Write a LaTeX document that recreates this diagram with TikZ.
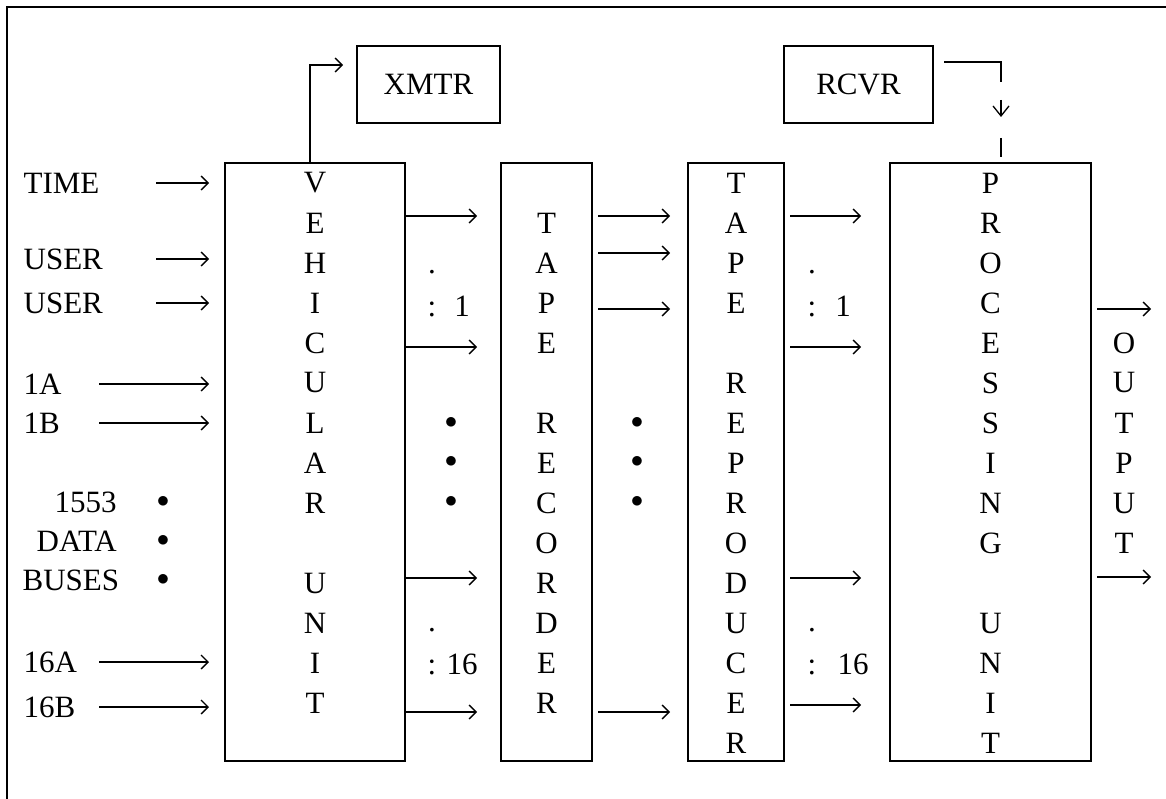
\documentclass[tikz,border=0pt]{standalone}
\usepackage{fontspec}
\setmainfont{Liberation Serif}
\usetikzlibrary{arrows.meta}

\begin{document}
\begin{tikzpicture}[x=1pt, y=-1pt, line width=1.3pt,
  every node/.style={font=\fontsize{31pt}{37pt}\selectfont, inner sep=0pt},
  box/.style={draw, rectangle, line width=2pt},
  sig/.style={-{Straight Barb[length=7pt,width=14pt]}, line width=1.3pt}]
\useasboundingbox (0,0) rectangle (1166,799);
% frame
\draw[line width=2.2pt] (7,799) -- (7,7) -- (1166,7);
% boxes
\node[box, minimum width=143, minimum height=77] (xmtr) at (428.5,84.5) {XMTR};
\node[box, minimum width=149, minimum height=77] (rcvr) at (858.5,84.5) {RCVR};
\node[box, minimum width=180, minimum height=598] (veh) at (315,462) {};
\node[box, minimum width=91, minimum height=598] (rec) at (546.5,462) {};
\node[box, minimum width=96, minimum height=598] (rep) at (736,462) {};
\node[box, minimum width=201, minimum height=598] (proc) at (990.5,462) {};
% letters down the boxes
\foreach \l [count=\i] in {V,E,H,I,C,U,L,A,R,{},U,N,I,T}
	\node (vehl\i) at (315,143+40*\i) {\l};
\foreach \l [count=\i from 2] in {T,A,P,E,{},R,E,C,O,R,D,E,R}
	\node (recl\i) at (546.5,143+40*\i) {\l};
\foreach \l [count=\i] in {T,A,P,E,{},R,E,P,R,O,D,U,C,E,R}
	\node (repl\i) at (736,143+40*\i) {\l};
\foreach \l [count=\i] in {P,R,O,C,E,S,S,I,N,G,{},U,N,I,T}
	\node (procl\i) at (990.5,143+40*\i) {\l};
\foreach \l [count=\i from 5] in {O,U,T,P,U,T}
	\node (outl\i) at (1124,143+40*\i) {\l};
% inputs
\node[anchor=west] (time) at (23,183) {TIME};
\node[anchor=west] (user1) at (23,259) {USER};
\node[anchor=west] (user2) at (23,303) {USER};
\node[anchor=west] (in1a) at (23,384) {1A};
\node[anchor=west] (in1b) at (23,423) {1B};
\node[anchor=west] (bus1) at (54,502) {1553};
\node[anchor=west] (bus2) at (36,541) {DATA};
\node[anchor=west] (bus3) at (22,580) {BUSES};
\node[anchor=west] (in16a) at (23,662) {16A};
\node[anchor=west] (in16b) at (23,707) {16B};
\coordinate (longin) at (99,0);
\coordinate (shortin) at (156,0);
\foreach \n in {time,user1,user2}
	\draw[sig, shorten >=15pt] (shortin |- \n) -- (veh.west |- \n);
\foreach \n in {in1a,in1b,in16a,in16b}
	\draw[sig, shorten >=15pt] (longin |- \n) -- (veh.west |- \n);
% bullets
\foreach \y [count=\i] in {502,541,580}
	\node (busdot\i) at (163,\y) {$\bullet$};
\foreach \y [count=\i] in {423,462,502}{
	\node (recdot\i) at (451,\y) {$\bullet$};
	\node (repdot\i) at (637,\y) {$\bullet$};
}
% channel counts
\foreach \cx/\cy/\num/\nx [count=\i] in {432/272/1/462, 432/630/16/462, 812/272/1/843, 812/630/16/853}{
	\node (chdot\i) at (\cx,\cy) {.};
	\node (chcol\i) at (\cx,\cy+37) {:};
	\node (chnum\i) at (\nx,\cy+34) {\num};
}
% tracks
\foreach \y in {216,347,578,712}
	\draw[sig, shorten >=23pt] (veh.east |- 0,\y) -- (rec.west |- 0,\y);
\foreach \y in {216,253,309,712}
	\draw[sig, shorten <=5pt, shorten >=17pt] (rec.east |- 0,\y) -- (rep.west |- 0,\y);
\foreach \y in {216,347,578,705}
	\draw[sig, shorten <=5pt, shorten >=28pt] (rep.east |- 0,\y) -- (proc.west |- 0,\y);
\coordinate (out1) at (1151,309);
\coordinate (out2) at (1151,577);
\foreach \n in {out1,out2}
	\draw[sig, shorten <=5pt] (proc.east |- \n) -- (\n);
% telemetry link
\draw[sig, shorten >=13pt] (veh.north -| 310,0) |- (xmtr.west |- 0,65);
\coordinate (rxturn) at (1001,62);
\coordinate (rxtip1) at (1001,100);
\coordinate (rxtip2) at (1001,117);
\coordinate (rxlow) at (1001,138);
\draw[shorten <=10pt] (rcvr.east |- rxturn) -- (rxturn) -- ++(0,20);
\draw[-{Straight Barb[length=10pt,width=16pt]}] (rxtip1) -- (rxtip2);
\draw[shorten >=5pt] (rxlow) -- (proc.north -| rxturn);
\end{tikzpicture}
\end{document}
